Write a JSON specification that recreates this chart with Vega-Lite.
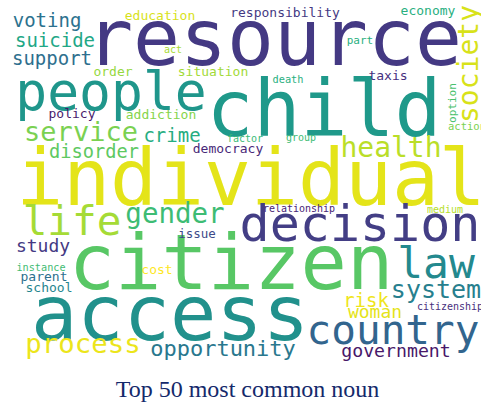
{
  "$schema": "https://vega.github.io/schema/vega-lite/v6.json",
  "width": 481,
  "height": 370,
  "padding": 0,
  "background": "white",
  "view": {"stroke": null},
  "title": {
    "text": "Top 50 most common noun",
    "orient": "bottom",
    "anchor": "middle",
    "baseline": "alphabetic",
    "offset": 27,
    "dx": 7,
    "font": "Liberation Serif",
    "fontSize": 24,
    "fontWeight": "normal",
    "color": "#14296b"
  },
  "data": {
    "values": [
      {"word": "resource", "freq": 78, "x": 274, "y": 65, "orientation": "horizontal"},
      {"word": "child", "freq": 78, "x": 324, "y": 136, "orientation": "horizontal"},
      {"word": "individual", "freq": 78, "x": 251, "y": 205, "orientation": "horizontal"},
      {"word": "citizen", "freq": 77, "x": 231, "y": 289, "orientation": "horizontal"},
      {"word": "access", "freq": 77, "x": 170, "y": 340, "orientation": "horizontal"},
      {"word": "decision", "freq": 50, "x": 360, "y": 241, "orientation": "horizontal"},
      {"word": "people", "freq": 53, "x": 111, "y": 110, "orientation": "horizontal"},
      {"word": "law", "freq": 43, "x": 436, "y": 278, "orientation": "horizontal"},
      {"word": "country", "freq": 41, "x": 393, "y": 344, "orientation": "horizontal"},
      {"word": "life", "freq": 41, "x": 72, "y": 235, "orientation": "horizontal"},
      {"word": "health", "freq": 28, "x": 391, "y": 157, "orientation": "horizontal"},
      {"word": "society", "freq": 28, "x": 478, "y": 64, "orientation": "vertical"},
      {"word": "service", "freq": 27, "x": 81, "y": 141, "orientation": "horizontal"},
      {"word": "gender", "freq": 27.5, "x": 175, "y": 223, "orientation": "horizontal"},
      {"word": "system", "freq": 25, "x": 436, "y": 298, "orientation": "horizontal"},
      {"word": "process", "freq": 27.4, "x": 83, "y": 353, "orientation": "horizontal"},
      {"word": "opportunity", "freq": 22, "x": 223, "y": 356, "orientation": "horizontal"},
      {"word": "government", "freq": 18.2, "x": 396, "y": 357, "orientation": "horizontal"},
      {"word": "voting", "freq": 19, "x": 47, "y": 27, "orientation": "horizontal"},
      {"word": "suicide", "freq": 19, "x": 55, "y": 47, "orientation": "horizontal"},
      {"word": "support", "freq": 19, "x": 52, "y": 65, "orientation": "horizontal"},
      {"word": "education", "freq": 13, "x": 160, "y": 20, "orientation": "horizontal"},
      {"word": "responsibility", "freq": 13, "x": 285, "y": 17, "orientation": "horizontal"},
      {"word": "economy", "freq": 13, "x": 428, "y": 15, "orientation": "horizontal"},
      {"word": "act", "freq": 10, "x": 173, "y": 53, "orientation": "horizontal"},
      {"word": "part", "freq": 11, "x": 360, "y": 44, "orientation": "horizontal"},
      {"word": "order", "freq": 13, "x": 113, "y": 76, "orientation": "horizontal"},
      {"word": "situation", "freq": 13, "x": 213, "y": 76, "orientation": "horizontal"},
      {"word": "death", "freq": 10.3, "x": 288, "y": 83, "orientation": "horizontal"},
      {"word": "taxis", "freq": 13, "x": 388, "y": 80, "orientation": "horizontal"},
      {"word": "policy", "freq": 13, "x": 72, "y": 118, "orientation": "horizontal"},
      {"word": "addiction", "freq": 13, "x": 161, "y": 119, "orientation": "horizontal"},
      {"word": "option", "freq": 11, "x": 456, "y": 103, "orientation": "vertical"},
      {"word": "action", "freq": 10.5, "x": 467, "y": 130, "orientation": "horizontal"},
      {"word": "crime", "freq": 19, "x": 172, "y": 142, "orientation": "horizontal"},
      {"word": "disorder", "freq": 18.7, "x": 94, "y": 158, "orientation": "horizontal"},
      {"word": "democracy", "freq": 13, "x": 228, "y": 153, "orientation": "horizontal"},
      {"word": "factor", "freq": 10, "x": 245, "y": 142, "orientation": "horizontal"},
      {"word": "group", "freq": 10, "x": 301, "y": 141, "orientation": "horizontal"},
      {"word": "study", "freq": 18, "x": 43, "y": 252, "orientation": "horizontal"},
      {"word": "issue", "freq": 12.5, "x": 197, "y": 238, "orientation": "horizontal"},
      {"word": "relationship", "freq": 10, "x": 299, "y": 212, "orientation": "horizontal"},
      {"word": "medium", "freq": 10, "x": 445, "y": 213, "orientation": "horizontal"},
      {"word": "instance", "freq": 10.2, "x": 41, "y": 271, "orientation": "horizontal"},
      {"word": "parent", "freq": 13, "x": 44, "y": 281, "orientation": "horizontal"},
      {"word": "school", "freq": 13, "x": 49, "y": 292, "orientation": "horizontal"},
      {"word": "cost", "freq": 13, "x": 157, "y": 274, "orientation": "horizontal"},
      {"word": "risk", "freq": 19, "x": 366, "y": 307, "orientation": "horizontal"},
      {"word": "woman", "freq": 18, "x": 375, "y": 318, "orientation": "horizontal"},
      {"word": "citizenship", "freq": 10, "x": 450, "y": 310, "orientation": "horizontal"}
    ]
  },
  "mark": {"type": "text", "font": "DejaVu Sans Mono", "align": "center", "baseline": "alphabetic"},
  "encoding": {
    "x": {"field": "x", "type": "quantitative", "scale": {"domain": [0, 481], "nice": false, "zero": false}, "axis": null},
    "y": {"field": "y", "type": "quantitative", "scale": {"domain": [0, 370], "nice": false, "zero": false, "reverse": true}, "axis": null},
    "text": {"field": "word", "type": "nominal"},
    "size": {"field": "freq", "type": "quantitative", "scale": {"type": "linear", "domain": [0, 80], "range": [0, 80], "zero": true}, "legend": null},
    "angle": {"field": "orientation", "type": "nominal", "scale": {"domain": ["horizontal", "vertical"], "range": [0, 270]}, "legend": null},
    "color": {
      "field": "word",
      "type": "nominal",
      "legend": null,
      "scale": {
        "domain": ["resource", "child", "individual", "citizen", "access", "decision", "people", "law", "country", "life", "health", "society", "service", "gender", "system", "process", "opportunity", "government", "voting", "suicide", "support", "education", "responsibility", "economy", "act", "part", "order", "situation", "death", "taxis", "policy", "addiction", "option", "action", "crime", "disorder", "democracy", "factor", "group", "study", "issue", "relationship", "medium", "instance", "parent", "school", "cost", "risk", "woman", "citizenship"],
        "range": ["#443983", "#1f998a", "#e4e419", "#58c765", "#21918c", "#433e85", "#1f968b", "#23898e", "#32658e", "#a5db36", "#bade28", "#d8e219", "#7ad151", "#3dbc74", "#277f8e", "#ece51b", "#29788e", "#481769", "#2c728e", "#22a785", "#2e6f8e", "#d8e219", "#443983", "#29af7f", "#a8db34", "#2ab07f", "#95d840", "#a2da37", "#2ab07f", "#46307e", "#481a6c", "#84d44b", "#4ac16d", "#7ad151", "#26ad81", "#5ec962", "#482878", "#3aba76", "#3dbc74", "#443983", "#3e4a89", "#482475", "#b5de2b", "#3fbc73", "#2d708e", "#25858e", "#fde725", "#efe51c", "#e5e419", "#472f7d"]
      }
    }
  }
}
